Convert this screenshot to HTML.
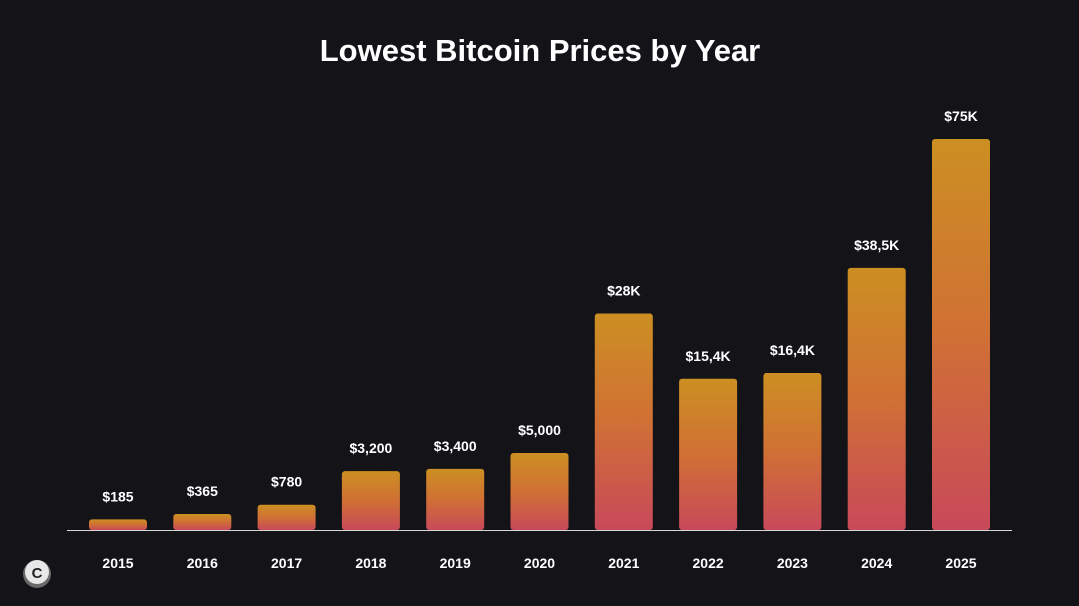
<!DOCTYPE html>
<html><head><meta charset="utf-8"><style>
html,body{margin:0;padding:0;background:#141318;}
svg{display:block;}
text{font-family:"Liberation Sans",sans-serif;}
</style></head><body>
<svg id="chart" width="1079" height="606" viewBox="0 0 1079 606">
<defs>
<linearGradient id="barGrad" x1="0" y1="0" x2="0" y2="1">
<stop offset="0" stop-color="#cc8f22"/>
<stop offset="0.5" stop-color="#d07035"/>
<stop offset="1" stop-color="#c8495a"/>
</linearGradient>
</defs>
<rect width="1079" height="606" fill="#141318"/>
<text x="540" y="61" text-anchor="middle" fill="#ffffff" font-size="31" font-weight="bold">Lowest Bitcoin Prices by Year</text>
<g id="bars"></g>
<line x1="67" y1="530.5" x2="1012" y2="530.5" stroke="#d8d8d8" stroke-width="1"/>
<g>
<circle cx="37" cy="574" r="14" fill="#6a6a6a"/>
<circle cx="37" cy="572" r="12" fill="#e8e8e8"/>
<text x="37" y="578" text-anchor="middle" font-size="15" font-weight="bold" fill="#222">C</text>
</g>
</svg>
<script>
const years = ["2015","2016","2017","2018","2019","2020","2021","2022","2023","2024","2025"];
const prices = [185,365,780,3200,3400,5000,28000,15400,16400,38500,75000];
const priceLabels = ["$185","$365","$780","$3,200","$3,400","$5,000","$28K","$15,4K","$16,4K","$38,5K","$75K"];

const baseY = 530, x0 = 118, step = 84.3, barW = 58;
const maxH = 391, maxV = 75000, exp = 0.6;
function yScale(v){ return baseY - maxH * Math.pow(v/maxV, exp); }
function xScale(i){ return x0 + i*step; }

const NS = "http://www.w3.org/2000/svg";
const g = document.getElementById('bars');
years.forEach((yr,i)=>{
  const cx = xScale(i), top = yScale(prices[i]);
  const r = document.createElementNS(NS,'rect');
  r.setAttribute('x', cx - barW/2);
  r.setAttribute('y', top);
  r.setAttribute('width', barW);
  r.setAttribute('height', baseY - top);
  r.setAttribute('rx', 3);
  r.setAttribute('fill', 'url(#barGrad)');
  
  
  g.appendChild(r);
  const t = document.createElementNS(NS,'text');
  t.setAttribute('x', cx);
  t.setAttribute('y', top - 18);
  t.setAttribute('text-anchor','middle');
  t.setAttribute('fill','#ffffff');
  t.setAttribute('font-size','14');
  t.setAttribute('font-weight','bold');
  t.textContent = priceLabels[i];
  
  
  g.appendChild(t);
  const yl = document.createElementNS(NS,'text');
  yl.setAttribute('x', cx);
  yl.setAttribute('y', 568);
  yl.setAttribute('text-anchor','middle');
  yl.setAttribute('fill','#ffffff');
  yl.setAttribute('font-size','14');
  yl.setAttribute('font-weight','bold');
  yl.textContent = yr;
  
  
  g.appendChild(yl);
});
</script>
</body></html>
